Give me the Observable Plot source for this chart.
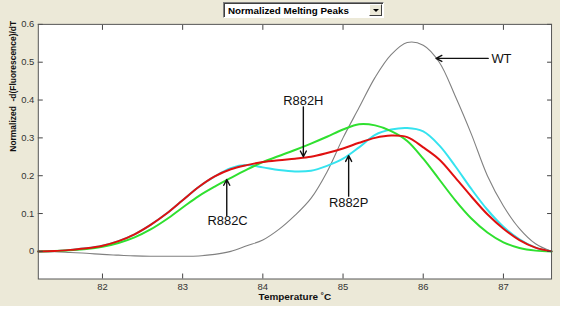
<!DOCTYPE html>
<html><head><meta charset="utf-8">
<script src="https://cdn.jsdelivr.net/npm/d3@7"></script>
<script src="https://cdn.jsdelivr.net/npm/@observablehq/plot@0.6"></script>
<style>
html,body{margin:0;padding:0;background:#fff;}
#wrap{position:relative;width:560px;height:306px;background:#ECE9D8;overflow:hidden;}
#chart{position:absolute;left:0;top:0;}
#dd{position:absolute;left:223px;top:2px;width:159px;height:14px;background:#fff;
  border:1px solid;border-color:#808080 #fff #fff #808080;box-shadow:inset 1px 1px 0 #404040;
  font:bold 9.8px "Liberation Sans",Arial,sans-serif;line-height:15px;color:#000;}
#dd span{position:absolute;left:4px;top:0;}
#btn{position:absolute;right:1px;top:1px;width:13px;height:12px;background:#ECE9D8;
  border:1px solid;border-color:#fff #404040 #404040 #fff;box-sizing:border-box;}
#tri{position:absolute;left:3px;top:4px;width:0;height:0;border-left:3px solid transparent;
  border-right:3px solid transparent;border-top:3px solid #000;}
</style></head>
<body><div id="wrap"><div id="chart"></div>
<div id="dd"><span>Normalized Melting Peaks</span><div id="btn"><div id="tri"></div></div></div></div>
<script>
const temps = [81.2,81.4,81.6,81.8,82.0,82.2,82.4,82.6,82.8,83.0,83.2,83.4,83.6,83.8,84.0,84.2,84.4,84.6,84.8,85.0,85.2,85.4,85.6,85.8,86.0,86.2,86.4,86.6,86.8,87.0,87.2,87.4,87.6];
const wtValues    = [0,-0.001,-0.003,-0.005,-0.008,-0.010,-0.012,-0.013,-0.013,-0.013,-0.012,-0.008,0.0,0.015,0.03,0.058,0.095,0.14,0.21,0.30,0.38,0.46,0.52,0.552,0.545,0.50,0.41,0.31,0.20,0.12,0.06,0.02,0];
const r882hValues = [0,0.001,0.004,0.008,0.015,0.027,0.045,0.07,0.10,0.135,0.17,0.198,0.217,0.228,0.236,0.241,0.245,0.25,0.26,0.272,0.287,0.30,0.306,0.302,0.275,0.243,0.195,0.145,0.098,0.06,0.03,0.01,0];
const r882cValues = [0,0.001,0.003,0.006,0.012,0.022,0.037,0.058,0.085,0.116,0.146,0.171,0.194,0.216,0.236,0.252,0.268,0.285,0.303,0.322,0.336,0.333,0.318,0.292,0.245,0.19,0.135,0.087,0.05,0.024,0.009,0.002,0];
const r882pValues = [0,0.001,0.004,0.008,0.015,0.027,0.045,0.07,0.10,0.135,0.17,0.198,0.22,0.228,0.222,0.215,0.211,0.213,0.226,0.245,0.275,0.308,0.322,0.326,0.317,0.28,0.225,0.165,0.11,0.065,0.032,0.01,0];
const seriesNames = ["WT","R882P","R882C","R882H"];
const seriesColors = ["#808080","#35e3ef","#2fe02f","#e01010"];
const seriesValues = [wtValues, r882pValues, r882cValues, r882hValues];
const xTicks = [82,83,84,85,86,87];
const yTicks = [0,0.1,0.2,0.3,0.4,0.5,0.6];
const xLabel = "Temperature \u02DAC";
const yLabel = "Normalized  -d(Fluorescence)/dT";
const arrowLinks = [
  {label:"WT",    x1:86.81, y1:0.51,  x2:86.16, y2:0.51},
  {label:"R882H", x1:84.505,y1:0.382, x2:84.505,y2:0.25},
  {label:"R882C", x1:83.55, y1:0.094, x2:83.55, y2:0.19},
  {label:"R882P", x1:85.07, y1:0.146, x2:85.07, y2:0.253}
];
const sideLabels   = [{label:"WT", tx:86.85, ty:0.51}];
const centerLabels = [
  {label:"R882H", tx:84.505, ty:0.397},
  {label:"R882C", tx:83.56,  ty:0.080},
  {label:"R882P", tx:85.07,  ty:0.129}
];

const rows = [];
seriesNames.forEach((name, i) => temps.forEach((t, j) => rows.push({name, t, v: seriesValues[i][j]})));

const font = "'Liberation Sans', Arial, sans-serif";
const chart = Plot.plot({
  width: 563, height: 310,
  marginLeft: 38, marginRight: 9, marginTop: 24, marginBottom: 30,
  style: {background: "transparent", fontFamily: font, color: "#222"},
  x: {domain: [81.2, 87.6]},
  y: {domain: [-0.073, 0.6]},
  color: {domain: seriesNames, range: seriesColors},
  marks: [
    Plot.frame({fill: "white"}),
    Plot.line(rows, {x: "t", y: "v", z: "name", stroke: "name", curve: "catmull-rom",
      strokeWidth: d => d.name === "WT" ? 1.1 : 2}),
    Plot.axisX({anchor: "bottom", ticks: xTicks, tickSize: -5, text: null, label: null, stroke: "#444"}),
    Plot.axisX({anchor: "top", ticks: xTicks, tickSize: -5, text: null, label: null, stroke: "#444"}),
    Plot.axisY({anchor: "left", ticks: yTicks, tickSize: -5, text: null, label: null, stroke: "#444"}),
    Plot.axisY({anchor: "right", ticks: yTicks, tickSize: -5, text: null, label: null, stroke: "#444"}),
    Plot.axisX({anchor: "bottom", ticks: xTicks, tickSize: 0, tickPadding: 4, label: null, fontSize: 9.5, fill: "#333",
      tickFormat: d => String(d)}),
    Plot.axisY({anchor: "left", ticks: yTicks, tickSize: 0, tickPadding: 4, label: null, fontSize: 9.5, fill: "#333",
      tickFormat: d => d === 0 ? "0" : d.toFixed(1)}),
    Plot.text([xLabel], {frameAnchor: "bottom", text: d => d, dy: 21, fontSize: 10, fontWeight: "bold", fill: "#111"}),
    Plot.text([yLabel], {frameAnchor: "left", text: d => d, rotate: -90, dx: -25, fontSize: 8.5, fontWeight: "bold", fill: "#111"}),
    Plot.arrow(arrowLinks, {x1: "x1", y1: "y1", x2: "x2", y2: "y2", stroke: "#111", strokeWidth: 1.4, headLength: 7, headAngle: 55}),
    Plot.text(sideLabels, {x: "tx", y: "ty", text: "label", textAnchor: "start", fontSize: 13, fill: "#111", lineAnchor: "middle"}),
    Plot.text(centerLabels, {x: "tx", y: "ty", text: "label", textAnchor: "middle", fontSize: 13, fill: "#111", lineAnchor: "middle"}),
    Plot.frame({stroke: "#555"})
  ]
});
document.getElementById("chart").appendChild(chart);
</script>
</body></html>
